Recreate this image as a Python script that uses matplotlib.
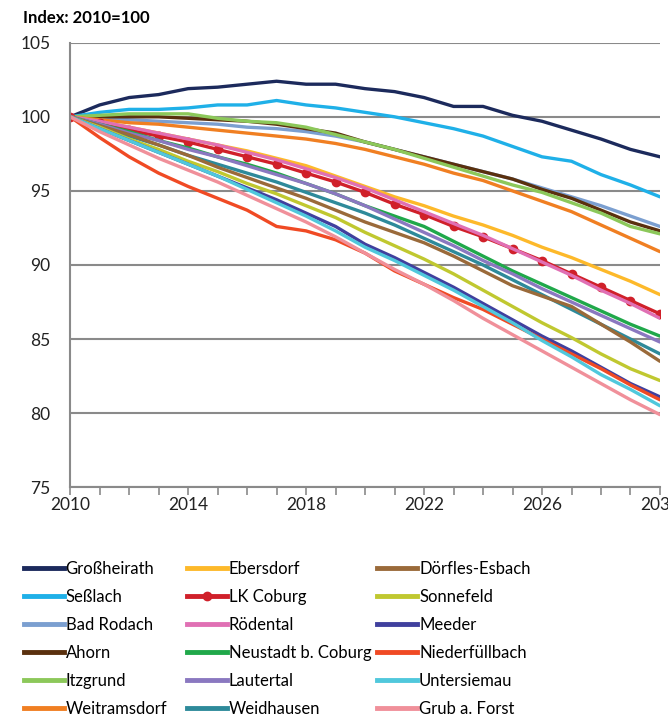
import numpy as np
import matplotlib
matplotlib.use('Agg')
import matplotlib.pyplot as plt
from matplotlib.lines import Line2D

plt.rcParams['font.family'] = ['Lato', 'DejaVu Sans']

years = list(range(2010, 2031))

# index values 2010=100
grossheirath = [100, 100.8, 101.3, 101.5, 101.9, 102.0, 102.2, 102.4, 102.2, 102.2, 101.9, 101.7, 101.3, 100.7, 100.7, 100.1, 99.7, 99.1, 98.5, 97.8, 97.3]
sesslach = [100, 100.3, 100.5, 100.5, 100.6, 100.8, 100.8, 101.1, 100.8, 100.6, 100.3, 100.0, 99.6, 99.2, 98.7, 98.0, 97.3, 97.0, 96.1, 95.4, 94.6]
bad_rodach = [100, 99.9, 99.8, 99.7, 99.6, 99.5, 99.3, 99.2, 99.0, 98.7, 98.3, 97.8, 97.3, 96.8, 96.3, 95.8, 95.2, 94.6, 94.0, 93.3, 92.6]
ahorn = [100, 100.0, 100.0, 100.0, 99.9, 99.8, 99.7, 99.5, 99.2, 98.9, 98.3, 97.8, 97.3, 96.8, 96.3, 95.8, 95.1, 94.5, 93.7, 92.9, 92.3]
itzgrund = [100, 100.1, 100.2, 100.2, 100.2, 99.9, 99.7, 99.6, 99.3, 98.8, 98.3, 97.8, 97.2, 96.6, 96.0, 95.4, 94.9, 94.2, 93.5, 92.6, 92.1]
weitramsdorf = [100, 99.8, 99.6, 99.5, 99.3, 99.1, 98.9, 98.7, 98.5, 98.2, 97.8, 97.3, 96.8, 96.2, 95.7, 95.0, 94.3, 93.6, 92.7, 91.8, 90.9]
ebersdorf = [100, 99.7, 99.3, 98.9, 98.5, 98.1, 97.7, 97.2, 96.7, 96.0, 95.3, 94.6, 94.0, 93.3, 92.7, 92.0, 91.2, 90.5, 89.7, 88.9, 88.0]
lk_coburg = [100, 99.6, 99.1, 98.7, 98.3, 97.8, 97.3, 96.8, 96.2, 95.6, 94.9, 94.1, 93.4, 92.6, 91.9, 91.1, 90.3, 89.4, 88.5, 87.6, 86.7]
roedental = [100, 99.7, 99.3, 98.9, 98.5, 98.1, 97.6, 97.1, 96.5, 95.9, 95.2, 94.4, 93.6, 92.8, 92.0, 91.1, 90.2, 89.3, 88.3, 87.4, 86.4]
neustadt = [100, 99.5, 99.0, 98.4, 97.9, 97.3, 96.8, 96.2, 95.5, 94.8, 94.0, 93.3, 92.6, 91.6, 90.6, 89.6, 88.7, 87.8, 86.9, 86.0, 85.2]
lautertal = [100, 99.5, 98.9, 98.4, 97.8, 97.3, 96.7, 96.1, 95.5, 94.8, 94.0, 93.1, 92.2, 91.3, 90.3, 89.4, 88.4, 87.5, 86.6, 85.7, 84.8]
weidhausen = [100, 99.4, 98.7, 98.1, 97.4, 96.8, 96.2, 95.6, 94.9, 94.2, 93.5, 92.7, 91.8, 90.9, 90.0, 89.0, 88.0, 87.0, 86.0, 85.0, 84.0]
doerfles = [100, 99.4, 98.8, 98.1, 97.4, 96.6, 95.9, 95.2, 94.5, 93.7, 92.9, 92.2, 91.5, 90.6, 89.6, 88.6, 87.9, 87.2, 86.0, 84.8, 83.5]
sonnefeld = [100, 99.3, 98.5, 97.8, 97.0, 96.3, 95.5, 94.8, 94.0, 93.2, 92.2, 91.3, 90.4, 89.4, 88.3, 87.2, 86.1, 85.1, 84.0, 83.0, 82.2]
meeder = [100, 99.2, 98.4, 97.6, 96.8, 96.0, 95.2, 94.4, 93.5, 92.6, 91.4, 90.5, 89.5, 88.5, 87.4, 86.3, 85.2, 84.2, 83.1, 82.0, 81.1]
niederfuellbach = [100, 98.6, 97.3, 96.2, 95.3, 94.5, 93.7, 92.6, 92.3, 91.7, 90.8, 89.6, 88.7, 87.8, 87.0, 86.0, 85.0, 84.0, 83.0, 81.9, 80.9]
untersiemau = [100, 99.2, 98.4, 97.6, 96.8, 96.0, 95.1, 94.2, 93.3, 92.3, 91.2, 90.3, 89.3, 88.3, 87.2, 86.1, 84.9, 83.8, 82.6, 81.6, 80.5]
grub = [100, 99.0, 98.1, 97.2, 96.4, 95.6, 94.7, 93.8, 92.9, 91.9, 90.8, 89.7, 88.7, 87.6, 86.4, 85.3, 84.2, 83.1, 82.0, 80.9, 79.9]

names = ['Großheirath', 'Seßlach', 'Bad Rodach', 'Ahorn', 'Itzgrund', 'Weitramsdorf',
         'Ebersdorf', 'LK Coburg', 'Rödental', 'Neustadt b. Coburg', 'Lautertal', 'Weidhausen',
         'Dörfles-Esbach', 'Sonnefeld', 'Meeder', 'Niederfüllbach', 'Untersiemau', 'Grub a. Forst']
series = [grossheirath, sesslach, bad_rodach, ahorn, itzgrund, weitramsdorf,
          ebersdorf, lk_coburg, roedental, neustadt, lautertal, weidhausen,
          doerfles, sonnefeld, meeder, niederfuellbach, untersiemau, grub]
colors = ['#1c2a5c', '#1fb0e8', '#7b9fd0', '#5a300e', '#8cc85a', '#f07f22',
          '#fdb92a', '#d0202a', '#e070b4', '#20a84a', '#8a78c0', '#2e8a9a',
          '#9a6a3a', '#c0c830', '#40409e', '#f04a24', '#50c8dc', '#f0909a']

fig = plt.figure(figsize=(6.68, 7.24), dpi=100)
ax = fig.add_axes([0.105, 0.327, 0.883, 0.614])

for name, vals, col in zip(names, series, colors):
    if name == 'LK Coburg':
        ax.plot(years, vals, color=col, linewidth=2.4, marker='o', markersize=6,
                solid_capstyle='round', label=name)
    else:
        ax.plot(years, vals, color=col, linewidth=2.4, solid_capstyle='round', label=name)

ax.set_xlim(2010, 2030)
ax.set_ylim(75, 105)
ax.set_yticks([75, 80, 85, 90, 95, 100, 105])
ax.set_xticks([2010, 2014, 2018, 2022, 2026, 2030])
ax.set_xticks(years, minor=True)
ax.grid(axis='y', color='#8a8a8a', linewidth=1.5)
ax.set_axisbelow(True)
for s in ['top', 'right']:
    ax.spines[s].set_visible(False)
for s in ['left', 'bottom']:
    ax.spines[s].set_color('#8a8a8a')
    ax.spines[s].set_linewidth(1.5)
ax.tick_params(axis='y', length=0, labelsize=12.5, colors='#222222', pad=14)
ax.tick_params(axis='x', which='both', direction='out', length=6, width=1.2, color='#8a8a8a',
               labelsize=12.5, labelcolor='#222222', pad=1)

fig.text(0.035, 0.975, 'Index: 2010=100', fontsize=12, fontweight='bold', va='center')

# legend in three columns
xs = [0.026, 0.27, 0.555]
for c in range(3):
    hs = []
    for i in range(c * 6, c * 6 + 6):
        if names[i] == 'LK Coburg':
            hs.append(Line2D([], [], color=colors[i], linewidth=3.5, marker='o', markersize=6))
        else:
            hs.append(Line2D([], [], color=colors[i], linewidth=3.5))
    fig.legend(hs, names[c * 6:c * 6 + 6], loc='upper left', bbox_to_anchor=(xs[c], 0.235),
               frameon=False, fontsize=12, handlelength=2.4, handletextpad=0.1,
               labelspacing=0.72, borderaxespad=0)

fig.savefig('out.png', dpi=100)
